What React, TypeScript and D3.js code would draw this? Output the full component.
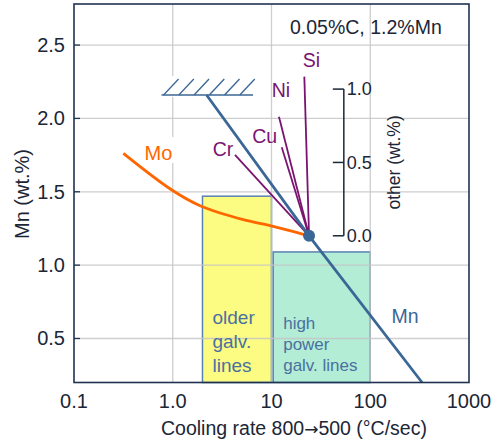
import React from "react";
import * as d3 from "d3";

// Axis ticks
const xTicks = [0.1, 1, 10, 100, 1000];
const xTickLabels = ["0.1", "1.0", "10", "100", "1000"];
const yTicks = [0.5, 1.0, 1.5, 2.0, 2.5];
const otherTicks = [0, 0.5, 1.0];

// Mn line: [cooling rate, Mn wt.%]
const mnLine: [number, number][] = [
  [2.2, 2.16],
  [24, 1.2],
  [335, 0.2],
];

// Mo curve: [cooling rate, Mn-equivalent wt.%]
const moCurve: [number, number][] = [
  [0.316, 1.762],
  [0.98, 1.512],
  [1.89, 1.405],
  [5.18, 1.31],
  [9.66, 1.27],
  [24, 1.2],
];

// Reference composition point
const basePoint: [number, number] = [24, 1.2];

// Other alloying elements: end point [cooling rate, wt.%]
const elements = ["Si", "Ni", "Cu", "Cr"];
const elementRate = [21.5, 11.9, 12.7, 4.27];
const elementWt = [1.085, 0.812, 0.603, 0.551];
const elementLabelOffset: [number, number][] = [
  [7, -16],
  [2, -26],
  [-17, -11],
  [-12, -6],
];

// Cooling line windows: [rate min, rate max, Mn top]
const boxes = [
  { x0: 2.0, x1: 10, top: 1.47, fill: "#fcfc82", lines: ["older", "galv.", "lines"], size: 19, lh: 24, y0: 323.5 },
  { x0: 10.4, x1: 100, top: 1.09, fill: "#b3edd6", lines: ["high", "power", "galv. lines"], size: 17, lh: 21, y0: 329 },
];

const hatchRange: [number, number] = [0.77, 6.5];
const hatchLevel = 2.16;
const otherAxisRate = 54;

const W = 492;
const H = 443;
const left = 74;
const right = 469;
const top = 4;
const bottom = 382.5;

const font = "'Liberation Sans', Arial, sans-serif";
const textColor = "#1b2636";
const frameColor = "#1f3350";
const gridColor = "#c6c6c6";
const mnColor = "#3b6796";
const moColor = "#ff6600";
const purple = "#7a1470";
const boxText = "#4a70a0";

export default function App() {
  const x = d3.scaleLog().domain([0.1, 1000]).range([left, right]);
  const y = d3.scaleLinear().domain([0.2, 2.78]).range([bottom, top]);
  const yo = (v: number) => y(basePoint[1] + v);

  const moPath =
    d3
      .line<[number, number]>()
      .x((d) => x(d[0]))
      .y((d) => y(d[1]))
      .curve(d3.curveCatmullRom.alpha(0.5))(moCurve) || "";
  const mnPath =
    d3
      .line<[number, number]>()
      .x((d) => x(d[0]))
      .y((d) => y(d[1]))(mnLine) || "";

  const hx0 = x(hatchRange[0]);
  const hx1 = x(hatchRange[1]);
  const hy = y(hatchLevel);
  const nHatch = 6;
  const hatchStep = (hx1 - hx0) / nHatch;
  const hatchStrokes = d3.range(nHatch).map((i) => hx0 + 2 + i * hatchStep);

  const px = x(basePoint[0]);
  const py = y(basePoint[1]);
  const ax = x(otherAxisRate);

  return (
    <svg width={W} height={H} style={{ position: "absolute", left: 0, top: 0, background: "#fff" }} fontFamily={font}>
      {/* boxes */}
      {boxes.map((b, i) => (
        <rect
          key={i}
          x={x(b.x0)}
          y={y(b.top)}
          width={x(b.x1) - x(b.x0)}
          height={bottom - y(b.top)}
          fill={b.fill}
          stroke="#5a82b0"
          strokeWidth={1.5}
        />
      ))}

      {/* grid */}
      {yTicks.map((t) => (
        <line key={"gy" + t} x1={left} x2={right} y1={y(t)} y2={y(t)} stroke={gridColor} strokeWidth={1.3} opacity={0.85} />
      ))}
      {xTicks.slice(1, -1).map((t) => (
        <line key={"gx" + t} x1={x(t)} x2={x(t)} y1={top} y2={bottom} stroke={gridColor} strokeWidth={1.3} opacity={0.85} />
      ))}

      {/* box labels */}
      {boxes.map((b, i) => (
        <text key={"bt" + i} fill={boxText} fontSize={b.size}>
          {b.lines.map((l, j) => (
            <tspan key={j} x={x(b.x0) + 10} y={b.y0 + j * b.lh}>
              {l}
            </tspan>
          ))}
        </text>
      ))}

      {/* hatch background + hatch */}
      <rect x={hx0 - 4} y={hy - 19} width={hx1 - hx0 + 12} height={21} fill="#fff" />
      <line x1={hx0} x2={hx1} y1={hy} y2={hy} stroke={mnColor} strokeWidth={1.5} />
      {hatchStrokes.map((s, i) => (
        <line key={"h" + i} x1={s} y1={hy} x2={s + 15} y2={hy - 16} stroke={mnColor} strokeWidth={1.3} />
      ))}

      {/* Mo label background */}
      <rect x={x(moCurve[0][0]) + 20} y={137} width={38} height={26} fill="#fff" />

      {/* element lines */}
      {elements.map((e, i) => (
        <line
          key={"el" + e}
          x1={px}
          y1={py}
          x2={x(elementRate[i])}
          y2={yo(elementWt[i])}
          stroke={purple}
          strokeWidth={1.8}
        />
      ))}
      {elements.map((e, i) => (
        <text
          key={"elt" + e}
          x={x(elementRate[i]) + elementLabelOffset[i][0]}
          y={yo(elementWt[i]) + elementLabelOffset[i][1]}
          dy="0.35em"
          textAnchor="middle"
          fill={purple}
          fontSize={19.5}
        >
          {e}
        </text>
      ))}

      {/* Mn line */}
      <path d={mnPath} fill="none" stroke={mnColor} strokeWidth={2.8} />
      {/* Mo curve */}
      <path d={moPath} fill="none" stroke={moColor} strokeWidth={2.8} />
      <text x={158.5} y={152.5} dy="0.35em" textAnchor="middle" fill={moColor} fontSize={20}>
        Mo
      </text>
      <text x={405} y={316} dy="0.35em" textAnchor="middle" fill={mnColor} fontSize={19.5}>
        Mn
      </text>

      <circle cx={px} cy={py} r={6} fill={mnColor} />

      {/* other axis */}
      <line x1={ax} x2={ax} y1={yo(1)} y2={yo(0)} stroke={textColor} strokeWidth={1.5} />
      {otherTicks.map((t) => (
        <g key={"ot" + t}>
          <line x1={ax - 11} x2={ax} y1={yo(t)} y2={yo(t)} stroke={textColor} strokeWidth={1.5} />
          <text x={ax + 3} y={yo(t)} dy="0.35em" fill={textColor} fontSize={18}>
            {t.toFixed(1)}
          </text>
        </g>
      ))}
      <text
        transform={`translate(${ax + 50},${yo(0.5)}) rotate(-90)`}
        textAnchor="middle"
        dy="0.35em"
        fill={textColor}
        fontSize={17.5}
      >
        other (wt.%)
      </text>

      {/* composition note */}
      <text x={290} y={33.5} fill={textColor} fontSize={19.5}>
        0.05%C, 1.2%Mn
      </text>

      {/* frame */}
      <rect x={left} y={top} width={right - left} height={bottom - top} fill="none" stroke={frameColor} strokeWidth={1.6} />

      {/* y axis ticks */}
      {yTicks.map((t) => (
        <g key={"yt" + t}>
          <line x1={left} x2={left + 6} y1={y(t)} y2={y(t)} stroke={frameColor} strokeWidth={1.3} />
          <text x={65} y={y(t)} dy="0.35em" textAnchor="end" fill={textColor} fontSize={20}>
            {t.toFixed(1)}
          </text>
        </g>
      ))}
      {/* x axis ticks */}
      {xTicks.map((t, i) => (
        <text key={"xt" + t} x={x(t)} y={401} dy="0.35em" textAnchor="middle" fill={textColor} fontSize={20}>
          {xTickLabels[i]}
        </text>
      ))}

      <text x={294} y={428} dy="0.35em" textAnchor="middle" fill={textColor} fontSize={19.5}>
        Cooling rate 800
        <tspan fontFamily="'DejaVu Sans', sans-serif" fontSize={17}>→</tspan>
        500 (°C/sec)
      </text>
      <text
        transform={`translate(22,194) rotate(-90)`}
        textAnchor="middle"
        dy="0.35em"
        fill={textColor}
        fontSize={20}
      >
        Mn (wt.%)
      </text>
    </svg>
  );
}
